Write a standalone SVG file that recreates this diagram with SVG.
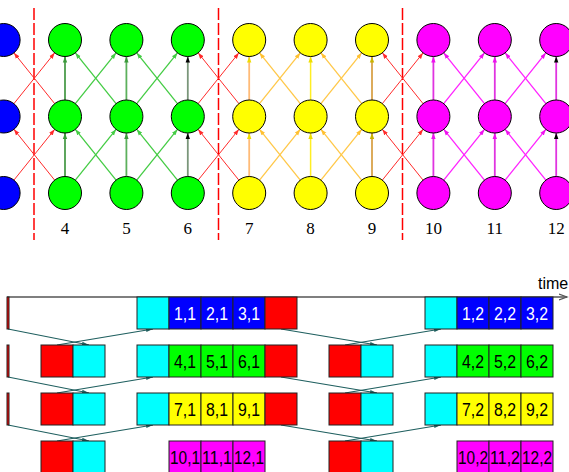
<svg xmlns="http://www.w3.org/2000/svg" width="569" height="472" viewBox="0 0 569 472">
<style>
.nd{stroke:#000;stroke-width:1}
.g{fill:#00ff00}.y{fill:#ffff00}.m{fill:#ff00ff}.b{fill:#0000ff}
.lbl{font-family:"Liberation Serif",serif;font-size:17px;fill:#000;text-anchor:middle}
.er{stroke:#ff2a2a;stroke-width:1;marker-end:url(#aRed)}
.eg{stroke:#44cc44;stroke-width:1.3;marker-end:url(#aGreen)}
.ey{stroke:#ffc848;stroke-width:1.3;marker-end:url(#aOrange)}
.em{stroke:#ff22ff;stroke-width:1.3;marker-end:url(#aMag)}
.v4{stroke:#4c9c4c;stroke-width:1.8;marker-end:url(#aGreenD)}
.v5{stroke:#5cb05c;stroke-width:1.8;marker-end:url(#aGreenD)}
.v6{stroke:#7a967a;stroke-width:1.8;marker-end:url(#aBlack)}
.v7{stroke:#ffbb77;stroke-width:1.8;marker-end:url(#aYel)}
.v8{stroke:#ffee22;stroke-width:1.5;marker-end:url(#aYel)}
.v9{stroke:#d9a24a;stroke-width:1.8;marker-end:url(#aTan)}
.vm{stroke:#e033e0;stroke-width:1.8;marker-end:url(#aMag)}
.vm12{stroke:#e033e0;stroke-width:1.8;marker-end:url(#aBlack)}
.dash{stroke:#ff0000;stroke-width:1.5;stroke-dasharray:12,3;fill:none}
.bx{stroke:#222;stroke-width:1}
.cR{fill:#ff0000}.cC{fill:#00ffff}.cB{fill:#0000ff}.cG{fill:#00ff00}.cY{fill:#ffff00}.cM{fill:#ff00ff}
.t{font-family:"Liberation Sans",Arial,sans-serif;font-size:18px;text-anchor:middle;fill:#000}
.tw{fill:#fff}
.tc{stroke:#1f5f5f;stroke-width:1.2;fill:none;marker-end:url(#aTeal)}
.axis{stroke:#555;stroke-width:1.3;fill:none;marker-end:url(#aAxis)}
.time{font-family:"Liberation Sans",Arial,sans-serif;font-size:16px;fill:#000}
</style>
<defs>
<marker id="aRed" markerUnits="userSpaceOnUse" markerWidth="8" markerHeight="6" refX="6" refY="3" orient="auto"><path d="M0,0.8 L6,3 L0,5.2 z" fill="#ff2a2a"/></marker>
<marker id="aGreen" markerUnits="userSpaceOnUse" markerWidth="8" markerHeight="6" refX="6" refY="3" orient="auto"><path d="M0,0.8 L6,3 L0,5.2 z" fill="#44cc44"/></marker>
<marker id="aGreenD" markerUnits="userSpaceOnUse" markerWidth="8" markerHeight="6" refX="6" refY="3" orient="auto"><path d="M0,0.8 L6,3 L0,5.2 z" fill="#3a9a3a"/></marker>
<marker id="aBlack" markerUnits="userSpaceOnUse" markerWidth="8" markerHeight="6" refX="6" refY="3" orient="auto"><path d="M0,0.8 L6,3 L0,5.2 z" fill="#000"/></marker>
<marker id="aOrange" markerUnits="userSpaceOnUse" markerWidth="8" markerHeight="6" refX="6" refY="3" orient="auto"><path d="M0,0.8 L6,3 L0,5.2 z" fill="#ffc030"/></marker>
<marker id="aYel" markerUnits="userSpaceOnUse" markerWidth="8" markerHeight="6" refX="6" refY="3" orient="auto"><path d="M0,0.8 L6,3 L0,5.2 z" fill="#eedd00"/></marker>
<marker id="aTan" markerUnits="userSpaceOnUse" markerWidth="8" markerHeight="6" refX="6" refY="3" orient="auto"><path d="M0,0.8 L6,3 L0,5.2 z" fill="#c8b400"/></marker>
<marker id="aMag" markerUnits="userSpaceOnUse" markerWidth="8" markerHeight="6" refX="6" refY="3" orient="auto"><path d="M0,0.8 L6,3 L0,5.2 z" fill="#ee11ee"/></marker>
<marker id="aTeal" markerUnits="userSpaceOnUse" markerWidth="9" markerHeight="6" refX="7" refY="3" orient="auto"><path d="M0,1 L7,3 L0,5 z" fill="#1f5f5f"/></marker>
<marker id="aAxis" markerUnits="userSpaceOnUse" markerWidth="10" markerHeight="8" refX="8" refY="4" orient="auto"><path d="M0,1 L8,4 L0,7" fill="none" stroke="#555" stroke-width="1.2"/></marker>
</defs>

<g id="separators">
<line class="dash" x1="34" y1="8" x2="34" y2="240"/>
<line class="dash" x1="218.5" y1="8" x2="218.5" y2="240"/>
<line class="dash" x1="402.5" y1="8" x2="402.5" y2="240"/>
</g>

<g id="connectors">
<line class="er" x1="13.93" y1="180.13" x2="54.67" y2="129.37"/>
<line class="er" x1="54.67" y1="180.13" x2="13.93" y2="129.37"/>
<line class="eg" x1="75.33" y1="180.13" x2="116.07" y2="129.37"/>
<line class="eg" x1="116.07" y1="180.13" x2="75.33" y2="129.37"/>
<line class="eg" x1="136.73" y1="180.13" x2="177.47" y2="129.37"/>
<line class="eg" x1="177.47" y1="180.13" x2="136.73" y2="129.37"/>
<line class="er" x1="198.13" y1="180.13" x2="238.87" y2="129.37"/>
<line class="er" x1="238.87" y1="180.13" x2="198.13" y2="129.37"/>
<line class="ey" x1="259.53" y1="180.13" x2="300.27" y2="129.37"/>
<line class="ey" x1="300.27" y1="180.13" x2="259.53" y2="129.37"/>
<line class="ey" x1="320.93" y1="180.13" x2="361.67" y2="129.37"/>
<line class="ey" x1="361.67" y1="180.13" x2="320.93" y2="129.37"/>
<line class="er" x1="382.33" y1="180.13" x2="423.07" y2="129.37"/>
<line class="er" x1="423.07" y1="180.13" x2="382.33" y2="129.37"/>
<line class="em" x1="443.73" y1="180.13" x2="484.47" y2="129.37"/>
<line class="em" x1="484.47" y1="180.13" x2="443.73" y2="129.37"/>
<line class="em" x1="505.13" y1="180.13" x2="545.87" y2="129.37"/>
<line class="em" x1="545.87" y1="180.13" x2="505.13" y2="129.37"/>
<line class="v4" x1="65" y1="176.5" x2="65" y2="133"/>
<line class="v5" x1="126.4" y1="176.5" x2="126.4" y2="133"/>
<line class="v6" x1="187.8" y1="176.5" x2="187.8" y2="133"/>
<line class="v7" x1="249.2" y1="176.5" x2="249.2" y2="133"/>
<line class="v8" x1="310.6" y1="176.5" x2="310.6" y2="133"/>
<line class="v9" x1="372" y1="176.5" x2="372" y2="133"/>
<line class="vm" x1="433.4" y1="176.5" x2="433.4" y2="133"/>
<line class="vm" x1="494.8" y1="176.5" x2="494.8" y2="133"/>
<line class="vm12" x1="556.2" y1="176.5" x2="556.2" y2="133"/>
<line class="er" x1="13.93" y1="103.63" x2="54.67" y2="52.87"/>
<line class="er" x1="54.67" y1="103.63" x2="13.93" y2="52.87"/>
<line class="eg" x1="75.33" y1="103.63" x2="116.07" y2="52.87"/>
<line class="eg" x1="116.07" y1="103.63" x2="75.33" y2="52.87"/>
<line class="eg" x1="136.73" y1="103.63" x2="177.47" y2="52.87"/>
<line class="eg" x1="177.47" y1="103.63" x2="136.73" y2="52.87"/>
<line class="er" x1="198.13" y1="103.63" x2="238.87" y2="52.87"/>
<line class="er" x1="238.87" y1="103.63" x2="198.13" y2="52.87"/>
<line class="ey" x1="259.53" y1="103.63" x2="300.27" y2="52.87"/>
<line class="ey" x1="300.27" y1="103.63" x2="259.53" y2="52.87"/>
<line class="ey" x1="320.93" y1="103.63" x2="361.67" y2="52.87"/>
<line class="ey" x1="361.67" y1="103.63" x2="320.93" y2="52.87"/>
<line class="er" x1="382.33" y1="103.63" x2="423.07" y2="52.87"/>
<line class="er" x1="423.07" y1="103.63" x2="382.33" y2="52.87"/>
<line class="em" x1="443.73" y1="103.63" x2="484.47" y2="52.87"/>
<line class="em" x1="484.47" y1="103.63" x2="443.73" y2="52.87"/>
<line class="em" x1="505.13" y1="103.63" x2="545.87" y2="52.87"/>
<line class="em" x1="545.87" y1="103.63" x2="505.13" y2="52.87"/>
<line class="v4" x1="65" y1="100" x2="65" y2="56.5"/>
<line class="v5" x1="126.4" y1="100" x2="126.4" y2="56.5"/>
<line class="v6" x1="187.8" y1="100" x2="187.8" y2="56.5"/>
<line class="v7" x1="249.2" y1="100" x2="249.2" y2="56.5"/>
<line class="v8" x1="310.6" y1="100" x2="310.6" y2="56.5"/>
<line class="v9" x1="372" y1="100" x2="372" y2="56.5"/>
<line class="vm" x1="433.4" y1="100" x2="433.4" y2="56.5"/>
<line class="vm" x1="494.8" y1="100" x2="494.8" y2="56.5"/>
<line class="vm12" x1="556.2" y1="100" x2="556.2" y2="56.5"/>
<line class="axis" x1="7" y1="297" x2="567" y2="297"/>
<line class="tc" x1="8" y1="329" x2="89" y2="345"/>
<line class="tc" x1="57" y1="345" x2="153" y2="329"/>
<line class="tc" x1="281" y1="329" x2="377" y2="345"/>
<line class="tc" x1="345" y1="345" x2="441" y2="329"/>
<line class="tc" x1="8" y1="377" x2="89" y2="393"/>
<line class="tc" x1="57" y1="393" x2="153" y2="377"/>
<line class="tc" x1="281" y1="377" x2="377" y2="393"/>
<line class="tc" x1="345" y1="393" x2="441" y2="377"/>
<line class="tc" x1="8" y1="425" x2="89" y2="441"/>
<line class="tc" x1="57" y1="441" x2="153" y2="425"/>
<line class="tc" x1="281" y1="425" x2="377" y2="441"/>
<line class="tc" x1="345" y1="441" x2="441" y2="425"/>
</g>

<g id="n3a"><circle class="nd b" cx="3.6" cy="193" r="16.5"/></g>
<g id="n3b"><circle class="nd b" cx="3.6" cy="116.5" r="16.5"/></g>
<g id="n3c"><circle class="nd b" cx="3.6" cy="40" r="16.5"/></g>
<g id="n4a"><circle class="nd g" cx="65" cy="193" r="16.5"/></g>
<g id="n4b"><circle class="nd g" cx="65" cy="116.5" r="16.5"/></g>
<g id="n4c"><circle class="nd g" cx="65" cy="40" r="16.5"/></g>
<g id="n5a"><circle class="nd g" cx="126.4" cy="193" r="16.5"/></g>
<g id="n5b"><circle class="nd g" cx="126.4" cy="116.5" r="16.5"/></g>
<g id="n5c"><circle class="nd g" cx="126.4" cy="40" r="16.5"/></g>
<g id="n6a"><circle class="nd g" cx="187.8" cy="193" r="16.5"/></g>
<g id="n6b"><circle class="nd g" cx="187.8" cy="116.5" r="16.5"/></g>
<g id="n6c"><circle class="nd g" cx="187.8" cy="40" r="16.5"/></g>
<g id="n7a"><circle class="nd y" cx="249.2" cy="193" r="16.5"/></g>
<g id="n7b"><circle class="nd y" cx="249.2" cy="116.5" r="16.5"/></g>
<g id="n7c"><circle class="nd y" cx="249.2" cy="40" r="16.5"/></g>
<g id="n8a"><circle class="nd y" cx="310.6" cy="193" r="16.5"/></g>
<g id="n8b"><circle class="nd y" cx="310.6" cy="116.5" r="16.5"/></g>
<g id="n8c"><circle class="nd y" cx="310.6" cy="40" r="16.5"/></g>
<g id="n9a"><circle class="nd y" cx="372" cy="193" r="16.5"/></g>
<g id="n9b"><circle class="nd y" cx="372" cy="116.5" r="16.5"/></g>
<g id="n9c"><circle class="nd y" cx="372" cy="40" r="16.5"/></g>
<g id="n10a"><circle class="nd m" cx="433.4" cy="193" r="16.5"/></g>
<g id="n10b"><circle class="nd m" cx="433.4" cy="116.5" r="16.5"/></g>
<g id="n10c"><circle class="nd m" cx="433.4" cy="40" r="16.5"/></g>
<g id="n11a"><circle class="nd m" cx="494.8" cy="193" r="16.5"/></g>
<g id="n11b"><circle class="nd m" cx="494.8" cy="116.5" r="16.5"/></g>
<g id="n11c"><circle class="nd m" cx="494.8" cy="40" r="16.5"/></g>
<g id="n12a"><circle class="nd m" cx="556.2" cy="193" r="16.5"/></g>
<g id="n12b"><circle class="nd m" cx="556.2" cy="116.5" r="16.5"/></g>
<g id="n12c"><circle class="nd m" cx="556.2" cy="40" r="16.5"/></g>

<g id="col-labels">
<text class="lbl" x="65" y="234">4</text>
<text class="lbl" x="126.4" y="234">5</text>
<text class="lbl" x="187.8" y="234">6</text>
<text class="lbl" x="249.2" y="234">7</text>
<text class="lbl" x="310.6" y="234">8</text>
<text class="lbl" x="372" y="234">9</text>
<text class="lbl" x="433.4" y="234">10</text>
<text class="lbl" x="494.8" y="234">11</text>
<text class="lbl" x="556.2" y="234">12</text>
</g>

<text class="time" x="538" y="289">time</text>

<g id="r1-s0"><rect class="bx cR" x="7" y="297" width="2" height="32"/></g>
<g id="r1-c1"><rect class="bx cC" x="137" y="297" width="32" height="32"/></g>
<g id="r1-d11"><rect class="bx cB" x="169" y="297" width="32" height="32"/><text class="t tw" x="185" y="320" textLength="22" lengthAdjust="spacingAndGlyphs">1,1</text></g>
<g id="r1-d21"><rect class="bx cB" x="201" y="297" width="32" height="32"/><text class="t tw" x="217" y="320" textLength="22" lengthAdjust="spacingAndGlyphs">2,1</text></g>
<g id="r1-d31"><rect class="bx cB" x="233" y="297" width="32" height="32"/><text class="t tw" x="249" y="320" textLength="22" lengthAdjust="spacingAndGlyphs">3,1</text></g>
<g id="r1-s1"><rect class="bx cR" x="265" y="297" width="32" height="32"/></g>
<g id="r1-c2"><rect class="bx cC" x="425" y="297" width="32" height="32"/></g>
<g id="r1-d12"><rect class="bx cB" x="457" y="297" width="32" height="32"/><text class="t tw" x="473" y="320" textLength="22" lengthAdjust="spacingAndGlyphs">1,2</text></g>
<g id="r1-d22"><rect class="bx cB" x="489" y="297" width="32" height="32"/><text class="t tw" x="505" y="320" textLength="22" lengthAdjust="spacingAndGlyphs">2,2</text></g>
<g id="r1-d32"><rect class="bx cB" x="521" y="297" width="32" height="32"/><text class="t tw" x="537" y="320" textLength="22" lengthAdjust="spacingAndGlyphs">3,2</text></g>

<g id="r2-s0"><rect class="bx cR" x="7" y="345" width="2" height="32"/></g>
<g id="r2-s1"><rect class="bx cR" x="41" y="345" width="32" height="32"/></g>
<g id="r2-c1"><rect class="bx cC" x="73" y="345" width="32" height="32"/></g>
<g id="r2-c2"><rect class="bx cC" x="137" y="345" width="32" height="32"/></g>
<g id="r2-d41"><rect class="bx cG" x="169" y="345" width="32" height="32"/><text class="t" x="185" y="368" textLength="22" lengthAdjust="spacingAndGlyphs">4,1</text></g>
<g id="r2-d51"><rect class="bx cG" x="201" y="345" width="32" height="32"/><text class="t" x="217" y="368" textLength="22" lengthAdjust="spacingAndGlyphs">5,1</text></g>
<g id="r2-d61"><rect class="bx cG" x="233" y="345" width="32" height="32"/><text class="t" x="249" y="368" textLength="22" lengthAdjust="spacingAndGlyphs">6,1</text></g>
<g id="r2-s2"><rect class="bx cR" x="265" y="345" width="32" height="32"/></g>
<g id="r2-s3"><rect class="bx cR" x="329" y="345" width="32" height="32"/></g>
<g id="r2-c3"><rect class="bx cC" x="361" y="345" width="32" height="32"/></g>
<g id="r2-c4"><rect class="bx cC" x="425" y="345" width="32" height="32"/></g>
<g id="r2-d42"><rect class="bx cG" x="457" y="345" width="32" height="32"/><text class="t" x="473" y="368" textLength="22" lengthAdjust="spacingAndGlyphs">4,2</text></g>
<g id="r2-d52"><rect class="bx cG" x="489" y="345" width="32" height="32"/><text class="t" x="505" y="368" textLength="22" lengthAdjust="spacingAndGlyphs">5,2</text></g>
<g id="r2-d62"><rect class="bx cG" x="521" y="345" width="32" height="32"/><text class="t" x="537" y="368" textLength="22" lengthAdjust="spacingAndGlyphs">6,2</text></g>

<g id="r3-s0"><rect class="bx cR" x="7" y="393" width="2" height="32"/></g>
<g id="r3-s1"><rect class="bx cR" x="41" y="393" width="32" height="32"/></g>
<g id="r3-c1"><rect class="bx cC" x="73" y="393" width="32" height="32"/></g>
<g id="r3-c2"><rect class="bx cC" x="137" y="393" width="32" height="32"/></g>
<g id="r3-d71"><rect class="bx cY" x="169" y="393" width="32" height="32"/><text class="t" x="185" y="416" textLength="22" lengthAdjust="spacingAndGlyphs">7,1</text></g>
<g id="r3-d81"><rect class="bx cY" x="201" y="393" width="32" height="32"/><text class="t" x="217" y="416" textLength="22" lengthAdjust="spacingAndGlyphs">8,1</text></g>
<g id="r3-d91"><rect class="bx cY" x="233" y="393" width="32" height="32"/><text class="t" x="249" y="416" textLength="22" lengthAdjust="spacingAndGlyphs">9,1</text></g>
<g id="r3-s2"><rect class="bx cR" x="265" y="393" width="32" height="32"/></g>
<g id="r3-s3"><rect class="bx cR" x="329" y="393" width="32" height="32"/></g>
<g id="r3-c3"><rect class="bx cC" x="361" y="393" width="32" height="32"/></g>
<g id="r3-c4"><rect class="bx cC" x="425" y="393" width="32" height="32"/></g>
<g id="r3-d72"><rect class="bx cY" x="457" y="393" width="32" height="32"/><text class="t" x="473" y="416" textLength="22" lengthAdjust="spacingAndGlyphs">7,2</text></g>
<g id="r3-d82"><rect class="bx cY" x="489" y="393" width="32" height="32"/><text class="t" x="505" y="416" textLength="22" lengthAdjust="spacingAndGlyphs">8,2</text></g>
<g id="r3-d92"><rect class="bx cY" x="521" y="393" width="32" height="32"/><text class="t" x="537" y="416" textLength="22" lengthAdjust="spacingAndGlyphs">9,2</text></g>

<g id="r4-s1"><rect class="bx cR" x="41" y="441" width="32" height="32"/></g>
<g id="r4-c1"><rect class="bx cC" x="73" y="441" width="32" height="32"/></g>
<g id="r4-d101"><rect class="bx cM" x="169" y="441" width="32" height="32"/><text class="t" x="185" y="464" textLength="30" lengthAdjust="spacingAndGlyphs">10,1</text></g>
<g id="r4-d111"><rect class="bx cM" x="201" y="441" width="32" height="32"/><text class="t" x="217" y="464" textLength="30" lengthAdjust="spacingAndGlyphs">11,1</text></g>
<g id="r4-d121"><rect class="bx cM" x="233" y="441" width="32" height="32"/><text class="t" x="249" y="464" textLength="30" lengthAdjust="spacingAndGlyphs">12,1</text></g>
<g id="r4-s3"><rect class="bx cR" x="329" y="441" width="32" height="32"/></g>
<g id="r4-c3"><rect class="bx cC" x="361" y="441" width="32" height="32"/></g>
<g id="r4-d102"><rect class="bx cM" x="457" y="441" width="32" height="32"/><text class="t" x="473" y="464" textLength="30" lengthAdjust="spacingAndGlyphs">10,2</text></g>
<g id="r4-d112"><rect class="bx cM" x="489" y="441" width="32" height="32"/><text class="t" x="505" y="464" textLength="30" lengthAdjust="spacingAndGlyphs">11,2</text></g>
<g id="r4-d122"><rect class="bx cM" x="521" y="441" width="32" height="32"/><text class="t" x="537" y="464" textLength="30" lengthAdjust="spacingAndGlyphs">12,2</text></g>
</svg>
